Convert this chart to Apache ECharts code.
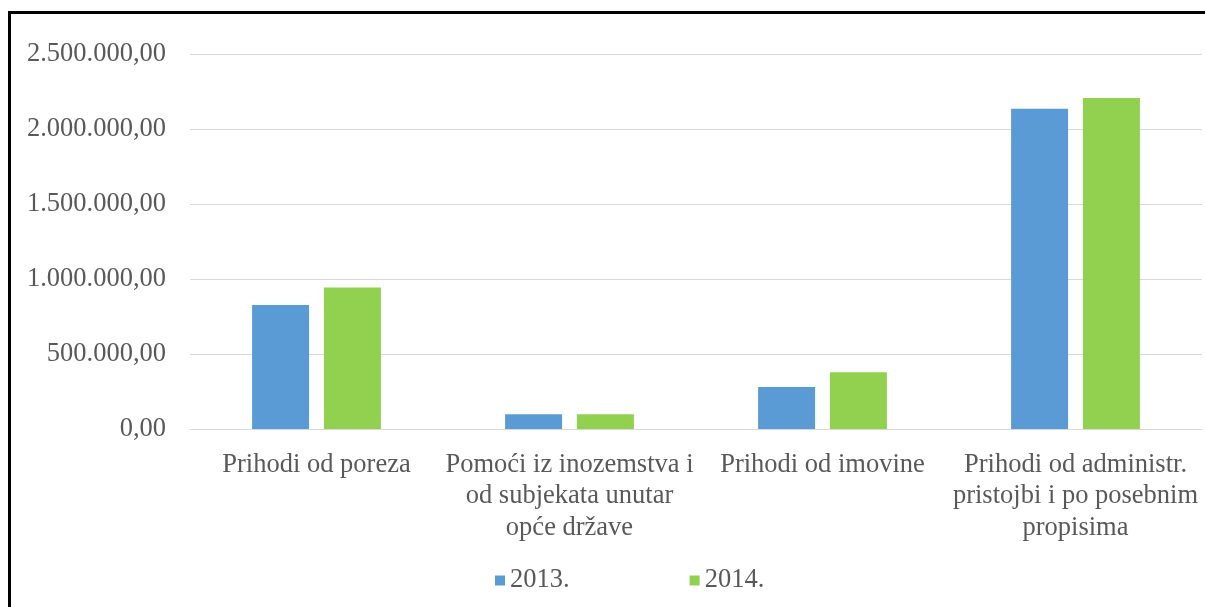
<!DOCTYPE html>
<html>
<head>
<meta charset="utf-8">
<script src="https://cdn.jsdelivr.net/npm/echarts@6/dist/echarts.min.js"></script>
<style>
  html, body { margin: 0; padding: 0; background: #fff; }
  #chart { width: 1205px; height: 607px; }
</style>
</head>
<body>
<div id="chart"></div>
<script>
// categories (wrapped like in the original chart)
const categories = [
  'Prihodi od poreza',
  'Pomoći iz inozemstva i\nod subjekata unutar\nopće države',
  'Prihodi od imovine',
  'Prihodi od administr.\npristojbi i po posebnim\npropisima'
];
const seriesNames = ['2013.', '2014.'];
const values2013 = [826000, 98000, 280000, 2135000];
const values2014 = [944000, 98000, 379000, 2206000];

// 1234567 -> "1.234.567,00"
function hrNumber(v) {
  const s = Math.round(v).toString().replace(/\B(?=(\d{3})+(?!\d))/g, '.');
  return s + ',00';
}

const font = 'Liberation Serif, Times New Roman, serif';
const textColor = '#595959';

const chart = echarts.init(document.getElementById('chart'));
chart.setOption({
  animation: false,
  textStyle: { fontFamily: font },
  color: ['#5B9BD5', '#92D050'],
  // black frame, open at the right and bottom like in the original crop
  graphic: [{
    type: 'rect',
    shape: { x: 9.5, y: 12.5, width: 1400, height: 800 },
    style: { fill: 'none', stroke: '#000', lineWidth: 3 },
    silent: true
  }],
  grid: { left: 190, right: 3, top: 54, bottom: 178 },
  legend: {
    data: seriesNames,
    left: 490,
    top: 562,
    itemWidth: 10,
    itemHeight: 10,
    itemGap: 120,
    icon: 'rect',
    textStyle: { fontFamily: font, fontSize: 26.5, color: textColor }
  },
  xAxis: {
    type: 'category',
    data: categories,
    axisLine: { lineStyle: { color: '#D9D9D9', width: 1 } },
    axisTick: { show: false },
    axisLabel: {
      interval: 0,
      margin: 20,
      fontFamily: font,
      fontSize: 26.5,
      lineHeight: 31.5,
      color: textColor,
      align: 'center'
    }
  },
  yAxis: {
    type: 'value',
    min: 0,
    max: 2500000,
    interval: 500000,
    axisLine: { show: false },
    axisTick: { show: false },
    splitLine: { lineStyle: { color: '#D9D9D9', width: 1 } },
    axisLabel: {
      margin: 24,
      fontFamily: font,
      fontSize: 26.5,
      color: textColor,
      formatter: hrNumber
    }
  },
  series: [
    {
      name: seriesNames[0],
      type: 'bar',
      data: values2013,
      barWidth: 57,
      barGap: '26%'
    },
    {
      name: seriesNames[1],
      type: 'bar',
      data: values2014,
      barWidth: 57,
      barGap: '26%'
    }
  ]
});
</script>
</body>
</html>
